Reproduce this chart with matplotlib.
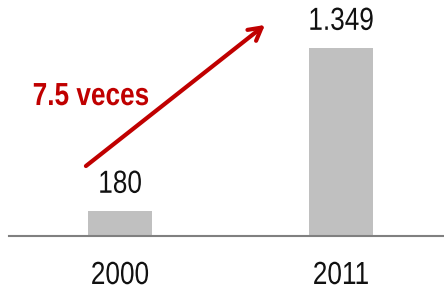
import matplotlib
matplotlib.use("Agg")
import matplotlib.pyplot as plt
from matplotlib.patheffects import AbstractPathEffect
from matplotlib.transforms import Affine2D

years = ["2000", "2011"]
values = [180, 1349]
value_labels = ["180", "1.349"]
annotation = "7.5 veces"

plt.rcParams['font.family'] = ['Liberation Sans', 'DejaVu Sans']


class Narrow(AbstractPathEffect):
    """Horizontally condense text around its own centre (Arial Narrow look)."""
    def __init__(self, sx=0.82):
        super().__init__()
        self.sx = sx

    def draw_path(self, renderer, gc, tpath, affine, rgbFace=None):
        ext = tpath.get_extents()
        cx = (ext.x0 + ext.x1) / 2
        t = Affine2D().translate(-cx, 0).scale(self.sx, 1).translate(cx, 0) + affine
        renderer.draw_path(gc, tpath, t, rgbFace)


narrow = [Narrow(0.82)]

W, H = 444, 290
fig = plt.figure(figsize=(W/100, H/100), dpi=100)
ax = fig.add_axes([9/W, (H-236)/H, (W-9)/W, 236/H])

x = [0, 1]
ax.bar(x, values, width=0.29, color="#C0C0C0")
ax.set_xlim(-0.502, 1.466)
ax.set_ylim(0, 1693)

for xi, v, lab in zip(x, values, value_labels):
    ax.annotate(lab, (xi, v), xytext=(0, 8), textcoords="offset points",
                ha="center", va="bottom", fontsize=23, color="#111111",
                path_effects=narrow)

ax.annotate("", xy=(0.656, 1514), xytext=(-0.154, 502),
            arrowprops=dict(arrowstyle="->,head_length=0.9,head_width=0.5",
                            color="#C00000", lw=3, shrinkA=0, shrinkB=0))
ax.text(-0.131, 997, annotation, ha="center", va="center", fontsize=23,
        fontweight="bold", color="#C00000", path_effects=narrow)

ax.set_xticks(x)
ax.set_xticklabels(years, fontsize=23, color="#111111")
for t in ax.get_xticklabels():
    t.set_path_effects(narrow)
ax.tick_params(axis="x", length=0, pad=18)
ax.set_yticks([])
for s in ["top", "right", "left"]:
    ax.spines[s].set_visible(False)
ax.spines["bottom"].set_color("#808080")
ax.spines["bottom"].set_linewidth(1.5)

fig.savefig("out.png", dpi=100)
